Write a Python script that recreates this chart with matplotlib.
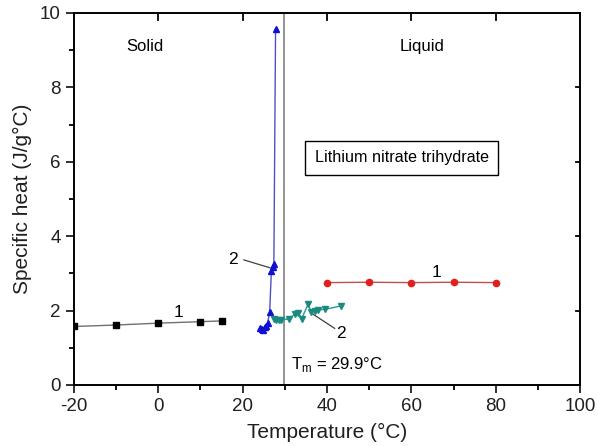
import matplotlib
matplotlib.use("Agg")
import matplotlib.pyplot as plt
from matplotlib.ticker import MultipleLocator

plt.rcParams['font.family'] = ['Liberation Sans', 'DejaVu Sans']
plt.rcParams['mathtext.fontset'] = 'custom'
plt.rcParams['mathtext.rm'] = 'Liberation Sans'
plt.rcParams['axes.unicode_minus'] = False

# Series 1 solid (black squares)
solid1_x = [-20, -10, 0, 10, 15]
solid1_y = [1.57, 1.61, 1.66, 1.70, 1.72]
# Series 1 liquid (red circles)
liquid1_x = [40, 50, 60, 70, 80]
liquid1_y = [2.75, 2.76, 2.75, 2.76, 2.75]
# Series 2 solid (blue up-triangles)
solid2_x = [24.1, 24.5, 24.9, 25.3, 25.5, 25.9, 26.4, 26.8, 27.1, 27.4, 27.8]
solid2_y = [1.53, 1.50, 1.48, 1.56, 1.59, 1.66, 1.95, 3.05, 3.18, 3.25, 9.57]
# Series 2 liquid (teal down-triangles)
liquid2_x = [27.4, 28.0, 28.6, 29.2, 30.9, 32.4, 33.2, 34.0, 35.5, 36.3, 37.1, 37.9, 39.5, 43.2]
liquid2_y = [1.77, 1.75, 1.75, 1.75, 1.77, 1.90, 1.94, 1.78, 2.17, 1.96, 2.00, 2.02, 2.03, 2.12]

tm = 29.9

fig = plt.figure(figsize=(5.98, 4.46), dpi=100)
ax = fig.add_axes([0.1237, 0.137, 0.8463, 0.834])

ax.axvline(tm, color='#808080', lw=1.2, zorder=1)

ax.plot(solid1_x, solid1_y, color='#707070', lw=1, marker='s', ms=4.5,
        mfc='black', mec='black', zorder=3)
ax.plot(liquid1_x, liquid1_y, color='#c05050', lw=1, marker='o', ms=4.5,
        mfc='#e02020', mec='#e02020', zorder=3)
ax.plot(solid2_x, solid2_y, color='#5050c0', lw=1, marker='^', ms=5,
        mfc='#1010d0', mec='#1010d0', zorder=3)
ax.plot(liquid2_x, liquid2_y, color='#2a9a90', lw=1, marker='v', ms=5,
        mfc='#1a8a80', mec='#1a8a80', zorder=3)

ax.set_xlim(-20, 100)
ax.set_ylim(0, 10)
ax.xaxis.set_major_locator(MultipleLocator(20))
ax.xaxis.set_minor_locator(MultipleLocator(10))
ax.yaxis.set_major_locator(MultipleLocator(2))
ax.yaxis.set_minor_locator(MultipleLocator(1))
ax.tick_params(which='major', direction='out', length=6, width=1.3, labelsize=13.5,
               top=False, right=False, colors='#202020')
ax.tick_params(which='minor', direction='out', length=3.5, width=1.3, top=False, right=False)
for s in ax.spines.values():
    s.set_linewidth(1.4)

# inward ticks on top and right (major only)
for xv in [0, 20, 40, 60, 80]:
    ax.plot([xv, xv], [10, 10 - 0.18], color='black', lw=1.3, clip_on=False, zorder=5)
for yv in [2, 4, 6, 8]:
    ax.plot([100, 100 - 0.9], [yv, yv], color='black', lw=1.3, clip_on=False, zorder=5)

ax.set_xlabel('Temperature (°C)', fontsize=15, color='#202020', labelpad=6)
ax.set_ylabel('Specific heat (J/g°C)', fontsize=15, color='#202020', labelpad=6)

ax.text(-3.2, 9.1, 'Solid', fontsize=12, ha='center', va='center')
ax.text(62.5, 9.1, 'Liquid', fontsize=12, ha='center', va='center')
ax.text(57.7, 6.1, 'Lithium nitrate trihydrate', fontsize=11.6, ha='center', va='center',
        bbox=dict(boxstyle='square,pad=0.6', fc='white', ec='black', lw=1))
ax.text(31.5, 0.56, r'T$_\mathrm{m}$ = 29.9°C', fontsize=12, ha='left', va='center')

ax.text(4.9, 1.94, '1', fontsize=12.5, ha='center', va='center')
ax.text(66, 3.02, '1', fontsize=12.5, ha='center', va='center')
ax.text(17.8, 3.36, '2', fontsize=12.5, ha='center', va='center')
ax.plot([20.3, 26.7], [3.36, 3.14], color='#404040', lw=0.9)
ax.text(43.4, 1.39, '2', fontsize=12.5, ha='center', va='center')
ax.plot([36.3, 41.8], [1.93, 1.52], color='#404040', lw=0.9)

fig.savefig('out.png', dpi=100)
